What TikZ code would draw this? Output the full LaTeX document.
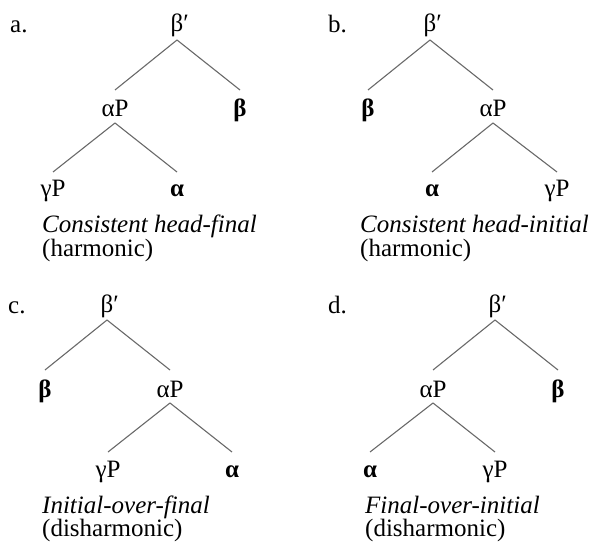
\documentclass[tikz,border=0pt]{standalone}
\usepackage{fontspec}
\setmainfont{Liberation Serif}
\definecolor{linegray}{RGB}{105,105,105}
\tikzset{
  lbl/.style={anchor=base, inner sep=0pt, font=\fontsize{25bp}{30bp}\selectfont},
  capt/.style={anchor=base west, inner sep=0pt, font=\fontsize{25bp}{30bp}\selectfont},
  branch/.style={draw=linegray, line width=1.1bp},
}
\newcommand{\brtop}[1]{([yshift=-8bp]#1.base)}
\newcommand{\brbot}[1]{([yshift=27bp]#1.base)}
\begin{document}
\begin{tikzpicture}[x=1bp,y=-1bp]
\useasboundingbox (0,0) rectangle (596,553);
% ---------- panel a ----------
\node[capt] (la) at (10,33) {a.};
\node[lbl] (ar) at (177,32) {β\rlap{′}};
\node[lbl] (aap) at (115,117) {αP};
\node[lbl] (ab) at (240,117) {\textbf{β}};
\node[lbl] (agp) at (53,197) {γP};
\node[lbl] (aa) at (177,197) {\textbf{α}};
\node[capt] (ac1) at (42,233) {\itshape Consistent head-final};
\node[capt] (ac2) at (42,256) {(harmonic)};
\draw[branch] \brtop{ar} -- \brbot{aap};
\draw[branch] \brtop{ar} -- \brbot{ab};
\draw[branch] ([yshift=-6bp]aap.base) -- ([yshift=25bp]agp.base);
\draw[branch] ([yshift=-6bp]aap.base) -- ([yshift=25bp]aa.base);
% ---------- panel b ----------
\node[capt] (lb) at (328,33) {b.};
\node[lbl] (br) at (430,32) {β\rlap{′}};
\node[lbl] (bb) at (368,117) {\textbf{β}};
\node[lbl] (bap) at (493,117) {αP};
\node[lbl] (ba) at (432,197) {\textbf{α}};
\node[lbl] (bgp) at (557,197) {γP};
\node[capt] (bc1) at (360,233) {\itshape Consistent head-initial};
\node[capt] (bc2) at (360,256) {(harmonic)};
\draw[branch] \brtop{br} -- \brbot{bb};
\draw[branch] \brtop{br} -- \brbot{bap};
\draw[branch] ([yshift=-6bp]bap.base) -- ([yshift=25bp]ba.base);
\draw[branch] ([yshift=-6bp]bap.base) -- ([yshift=25bp]bgp.base);
% ---------- panel c ----------
\node[capt] (lc) at (8,313) {c.};
\node[lbl] (cr) at (107,312) {β\rlap{′}};
\node[lbl] (cb) at (45,397) {\textbf{β}};
\node[lbl] (cap) at (170,397) {αP};
\node[lbl] (cgp) at (108,477) {γP};
\node[lbl] (ca) at (232,477) {\textbf{α}};
\node[capt] (cc1) at (42,513) {\itshape Initial-over-final};
\node[capt] (cc2) at (42,536) {(disharmonic)};
\draw[branch] \brtop{cr} -- \brbot{cb};
\draw[branch] \brtop{cr} -- \brbot{cap};
\draw[branch] ([yshift=-6bp]cap.base) -- ([yshift=25bp]cgp.base);
\draw[branch] ([yshift=-6bp]cap.base) -- ([yshift=25bp]ca.base);
% ---------- panel d ----------
\node[capt] (ld) at (328,313) {d.};
\node[lbl] (dr) at (495,312) {β\rlap{′}};
\node[lbl] (dap) at (433,397) {αP};
\node[lbl] (db) at (558,397) {\textbf{β}};
\node[lbl] (da) at (370,477) {\textbf{α}};
\node[lbl] (dgp) at (495,477) {γP};
\node[capt] (dc1) at (365,513) {\itshape Final-over-initial};
\node[capt] (dc2) at (365,536) {(disharmonic)};
\draw[branch] \brtop{dr} -- \brbot{dap};
\draw[branch] \brtop{dr} -- \brbot{db};
\draw[branch] ([yshift=-6bp]dap.base) -- ([yshift=25bp]da.base);
\draw[branch] ([yshift=-6bp]dap.base) -- ([yshift=25bp]dgp.base);
\end{tikzpicture}
\end{document}
